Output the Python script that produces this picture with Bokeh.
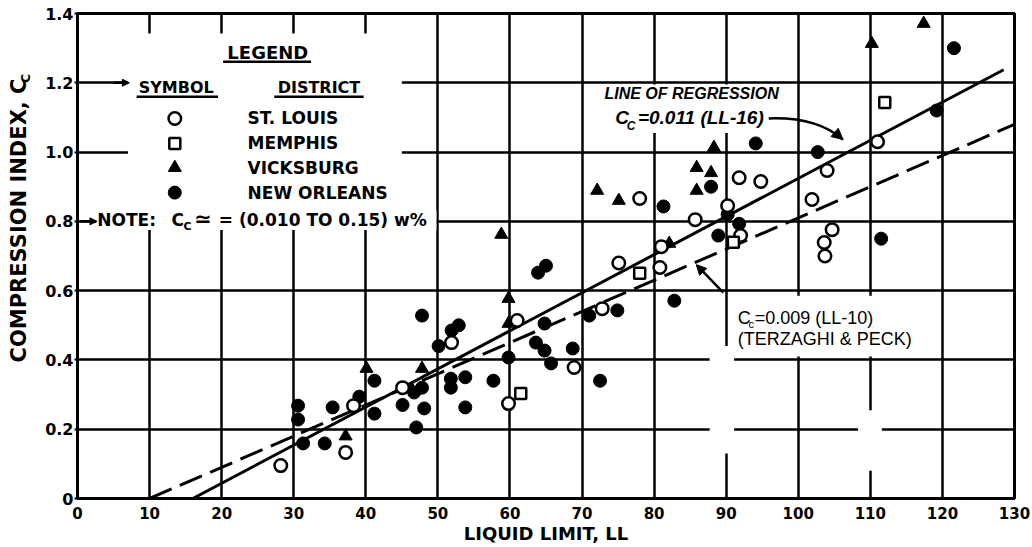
import math
from bokeh.plotting import figure
from bokeh.layouts import row
from bokeh.models import Range1d, FixedTicker, Label, Arrow, NormalHead
from bokeh.embed import file_html
from bokeh.resources import INLINE

# ---------------- data ----------------
stlouis_ll = [28.2, 37.2, 38.3, 45.1, 51.9, 59.8, 61.0, 68.9, 72.8, 75.1, 78.0, 80.8,
              81.0, 85.7, 90.2, 92.0, 91.8, 94.8, 101.9, 104.0, 104.7, 103.6, 103.7, 111.0]
stlouis_cc = [0.095, 0.133, 0.268, 0.32, 0.45, 0.274, 0.514, 0.378, 0.548, 0.68, 0.866, 0.667,
              0.727, 0.805, 0.845, 0.759, 0.926, 0.915, 0.863, 0.947, 0.776, 0.739, 0.70, 1.03]

memphis_ll = [61.5, 78.0, 91.0, 112.0]
memphis_cc = [0.303, 0.65, 0.74, 1.143]

vicksburg_ll = [37.2, 40.1, 47.8, 58.8, 59.8, 59.8, 72.1, 75.1, 82.1, 85.9, 85.9, 87.9,
                88.3, 110.2, 117.4]
vicksburg_cc = [0.18, 0.375, 0.375, 0.762, 0.577, 0.505, 0.889, 0.86, 0.736, 0.955, 0.889, 0.94,
                1.013, 1.313, 1.371]

neworleans_ll = [30.6, 30.6, 31.3, 34.3, 35.4, 39.1, 41.2, 41.2, 45.1, 46.7, 47.8, 48.1,
                 47.0, 47.8, 50.1, 51.9, 52.9, 51.8, 51.8, 53.8, 53.8, 57.7, 59.8, 63.6,
                 64.8, 65.7, 64.8, 63.9, 65.0, 68.7, 71.0, 74.9, 72.5, 81.3, 82.8, 87.9,
                 88.9, 90.2, 91.8, 94.1, 102.7, 111.5, 119.2, 121.6]
neworleans_cc = [0.268, 0.228, 0.159, 0.159, 0.263, 0.294, 0.34, 0.245, 0.27, 0.306, 0.32, 0.26,
                 0.205, 0.528, 0.44, 0.485, 0.5, 0.346, 0.32, 0.35, 0.263, 0.34, 0.407, 0.45,
                 0.427, 0.39, 0.505, 0.652, 0.672, 0.433, 0.528, 0.543, 0.34, 0.843, 0.571, 0.9,
                 0.759, 0.82, 0.793, 1.025, 1.0, 0.75, 1.12, 1.3]

# regression: Cc = 0.011 (LL - 16) ; Terzaghi & Peck: Cc = 0.009 (LL - 10)
reg_ll = [16, 128.5]
reg_cc = [0.011 * (v - 16) for v in reg_ll]
tp_ll = [10, 130]
tp_cc = [0.009 * (v - 10) for v in tp_ll]

x_ticks = [0, 10, 20, 30, 40, 50, 60, 70, 80, 90, 100, 110, 120, 130]
y_ticks = [0, 0.2, 0.4, 0.6, 0.8, 1.0, 1.2, 1.4]
y_tick_labels = ["0", "0.2", "0.4", "0.6", "0.8", "1.0", "1.2", "1.4"]

districts = ["ST. LOUIS", "MEMPHIS", "VICKSBURG", "NEW ORLEANS"]

FONT = "DejaVu Sans"
H = 546
LW = 42  # width of the strip that carries the rotated y-axis title

# ---------------- y-axis title strip ----------------
pt = figure(width=LW, height=H, x_range=Range1d(0, LW), y_range=Range1d(0, H),
            output_backend="svg", toolbar_location=None,
            min_border_left=0, min_border_right=0, min_border_top=0, min_border_bottom=0)
pt.axis.visible = False
pt.grid.visible = False
pt.outline_line_color = None
pt.border_fill_color = "white"
pt.add_layout(Label(x=18, y=H - 233, text="COMPRESSION INDEX, C", angle=math.pi / 2,
                    text_align="center", text_baseline="middle", text_font=FONT,
                    text_font_style="bold", text_font_size="21px", text_color="black"))
pt.add_layout(Label(x=25, y=H - 73, text="C", angle=math.pi / 2,
                    text_align="center", text_baseline="middle", text_font=FONT,
                    text_font_style="bold", text_font_size="12px", text_color="black"))

# ---------------- main chart ----------------
p = figure(width=1030 - LW, height=H, x_range=Range1d(0, 130), y_range=Range1d(0, 1.4),
           output_backend="svg", toolbar_location=None,
           min_border_left=75 - LW, min_border_right=16, min_border_top=13, min_border_bottom=0)
p.background_fill_color = "white"
p.border_fill_color = "white"
p.outline_line_color = "black"
p.outline_line_width = 3
p.outline_line_alpha = 1

for g, t in ((p.xgrid, x_ticks), (p.ygrid, y_ticks)):
    g.ticker = FixedTicker(ticks=t)
    g.grid_line_color = "black"
    g.grid_line_width = 2.5
    g.grid_line_alpha = 1

p.xaxis.ticker = FixedTicker(ticks=x_ticks)
p.yaxis.ticker = FixedTicker(ticks=y_ticks)
p.yaxis.major_label_overrides = {t: s for t, s in zip(y_ticks, y_tick_labels)}
for ax in (p.xaxis, p.yaxis):
    ax.axis_line_color = None
    ax.minor_tick_line_color = None
    ax.major_label_text_font = FONT
    ax.major_label_text_font_style = "bold"
    ax.major_label_text_color = "black"
p.xaxis.major_tick_line_color = None
p.xaxis.major_label_text_font_size = "15px"
p.xaxis.major_label_standoff = 2
p.xaxis.axis_label = "LIQUID LIMIT, LL"
p.xaxis.axis_label_text_font = FONT
p.xaxis.axis_label_text_font_style = "bold"
p.xaxis.axis_label_text_font_size = "18px"
p.xaxis.axis_label_text_color = "black"
p.xaxis.axis_label_standoff = 1
p.yaxis.major_label_text_font_size = "16px"
p.yaxis.major_tick_line_color = "black"
p.yaxis.major_tick_line_width = 2
p.yaxis.major_tick_out = 3
p.yaxis.major_tick_in = 0
p.yaxis.major_label_standoff = 1


def lab(x, y, text, size, font=FONT, style="bold", align="left", baseline="middle"):
    p.add_layout(Label(x=x, y=y, text=text, text_font=font, text_font_style=style,
                       text_font_size=f"{size}px", text_align=align, text_baseline=baseline,
                       text_color="black"))


# white masks (blank areas of the drawing where the grid is interrupted)
p.quad(left=[7.0, 2.6, 72.5, 90.3, 87.7, 108.3],
       right=[45.0, 49.8, 98.0, 119.6, 91.1, 111.6],
       bottom=[0.78, 0.775, 1.055, 0.41, 0.13, 0.08],
       top=[1.342, 0.832, 1.195, 0.585, 0.44, 0.255],
       fill_color="white", line_color=None)

# lines
p.line(reg_ll, reg_cc, line_color="black", line_width=3)
p.line(tp_ll, tp_cc, line_color="black", line_width=3, line_dash="24 9")

# points
p.scatter(neworleans_ll, neworleans_cc, marker="circle", size=13,
          fill_color="black", line_color="black", line_width=1)
p.scatter(vicksburg_ll, vicksburg_cc, marker="triangle", size=13,
          fill_color="black", line_color="black", line_width=1)
p.scatter(stlouis_ll, stlouis_cc, marker="circle", size=12.5,
          fill_color="white", line_color="black", line_width=2.5)
p.scatter(memphis_ll, memphis_cc, marker="square", size=11,
          fill_color="white", line_color="black", line_width=2.5)

# ---------------- legend (drawn in the chart) ----------------
leg_y = [1.097, 1.025, 0.955, 0.883]
p.scatter([13.5], [leg_y[0]], marker="circle", size=12.5, fill_color="white",
          line_color="black", line_width=2.5)
p.scatter([13.5], [leg_y[1]], marker="square", size=11, fill_color="white",
          line_color="black", line_width=2.5)
p.scatter([13.5], [leg_y[2]], marker="triangle", size=13, fill_color="black", line_color="black")
p.scatter([13.5], [leg_y[3]], marker="circle", size=13, fill_color="black", line_color="black")
for name, yy in zip(districts, leg_y):
    lab(23.6, yy, name, 17)

lab(26.4, 1.287, "LEGEND", 18, align="center")
lab(13.7, 1.186, "SYMBOL", 16, align="center")
lab(33.5, 1.186, "DISTRICT", 16, align="center")
p.segment(x0=[20.2, 8.2, 27.3], y0=[1.261, 1.160, 1.160],
          x1=[32.4, 19.5, 39.7], y1=[1.261, 1.160, 1.160], line_color="black", line_width=2.5)
p.add_layout(Arrow(end=NormalHead(size=7, fill_color="black", line_color="black"),
                   x_start=5.0, y_start=1.2, x_end=7.2, y_end=1.2,
                   line_color="black", line_width=2.5))

# note
lab(2.75, 0.805, "NOTE:", 17)
lab(13.05, 0.805, "C", 17)
lab(14.7, 0.785, "C", 11)
lab(16.2, 0.808, "\u2243", 21)
lab(19.6, 0.805, "= (0.010 TO 0.15) w%", 17)
p.add_layout(Arrow(end=NormalHead(size=7, fill_color="black", line_color="black"),
                   x_start=0.4, y_start=0.8, x_end=2.7, y_end=0.8,
                   line_color="black", line_width=2.5))

# regression annotation
BI = "Liberation Sans"
lab(85.2, 1.169, "LINE OF REGRESSION", 16, font=BI, style="bold italic", align="center")
lab(74.6, 1.10, "C", 19, font=BI, style="bold italic")
lab(76.2, 1.074, "C", 12, font=BI, style="bold italic")
lab(77.75, 1.10, "=0.011 (LL-16)", 19, font=BI, style="bold italic")
p.quadratic(x0=[95.9], y0=[1.097], x1=[106.2], y1=[1.036], cx=[102.6], cy=[1.102],
            line_color="black", line_width=2.5)
p.add_layout(Arrow(end=NormalHead(size=11, fill_color="black", line_color="black"),
                   x_start=105.15, y_start=1.055, x_end=106.2, y_end=1.036,
                   line_color="black", line_width=2.5))

# Terzaghi & Peck annotation
lab(91.6, 0.522, "C", 18, font="Liberation Sans", style="normal")
lab(93.1, 0.503, "c", 11, font="Liberation Sans", style="normal")
lab(93.96, 0.522, "=0.009 (LL-10)", 18, font="Liberation Sans", style="normal")
lab(91.6, 0.459, "(TERZAGHI & PECK)", 18, font="Liberation Sans", style="normal")
p.add_layout(Arrow(end=NormalHead(size=10, fill_color="black", line_color="black"),
                   x_start=89.6, y_start=0.594, x_end=85.85, y_end=0.675,
                   line_color="black", line_width=2.5))

layout = row(pt, p)
open("out.html", "w").write(file_html(layout, INLINE))
